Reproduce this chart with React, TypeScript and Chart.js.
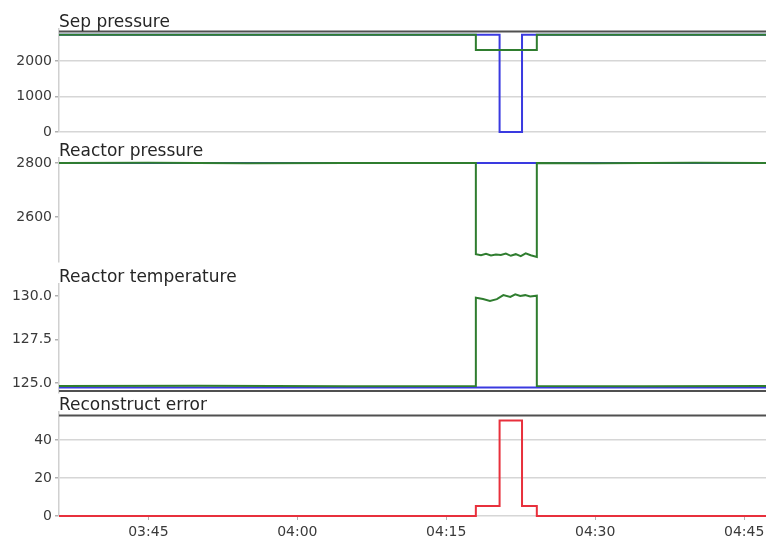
import React, { useEffect, useRef } from "react";
import { Chart, registerables } from "chart.js";

Chart.register(...registerables);

// ---------- shared time axis (minutes since 00:00) ----------
const X_MIN = 216.0;
const X_MAX = 287.2;
const xTickMinutes = [225, 240, 255, 270, 285];
const xTickLabels = ["03:45", "04:00", "04:15", "04:30", "04:45"];

// ---------- Sep pressure ----------
const sepTicks = [0, 1000, 2000];
const sepGreenT = [216, 257.98, 257.98, 264.12, 264.12, 287.2];
const sepGreenV = [2740, 2740, 2310, 2310, 2740, 2740];
const sepBlueT = [216, 260.37, 260.37, 262.63, 262.63, 287.2];
const sepBlueV = [2740, 2740, 0, 0, 2740, 2740];
const sepLimitT = [216, 287.2];
const sepLimitV = [2830, 2830];

// ---------- Reactor pressure ----------
const rpTicks = [2600, 2800];
const rpGreenT = [216, 225, 235, 245, 257.98, 257.98, 258.5, 259, 259.5, 260, 260.5, 261, 261.5, 262, 262.5, 263, 263.5, 264.12, 264.12, 270, 280, 287.2];
const rpGreenV = [2800, 2801, 2799, 2800, 2800, 2462, 2458, 2463, 2457, 2461, 2459, 2464, 2456, 2462, 2455, 2465, 2458, 2452, 2800, 2799, 2801, 2800];
const rpBlueT = [216, 287.2];
const rpBlueV = [2800, 2800];

// ---------- Reactor temperature ----------
const rtTicks = [125, 127.5, 130];
const rtGreenT = [216, 230, 245, 257.98, 257.98, 258.7, 259.4, 260.1, 260.75, 261.45, 261.95, 262.45, 262.95, 263.45, 264.12, 264.12, 275, 287.2];
const rtGreenV = [124.83, 124.84, 124.82, 124.83, 129.9, 129.83, 129.72, 129.82, 130.05, 129.95, 130.1, 130.0, 130.05, 129.97, 130.02, 124.83, 124.82, 124.83];
const rtBlueT = [216, 287.2];
const rtBlueV = [124.75, 124.75];
const rtLimitT = [216, 287.2];
const rtLimitV = [124.54, 124.54];

// ---------- Reconstruct error ----------
const reTicks = [0, 20, 40];
const reRedT = [216, 257.98, 257.98, 260.37, 260.37, 262.63, 262.63, 264.12, 264.12, 287.2];
const reRedV = [0, 0, 5.3, 5.3, 50.2, 50.2, 5.3, 5.3, 0, 0];
const reLimitT = [216, 287.2];
const reLimitV = [52.8, 52.8];

const GREEN = "#2f7d2f";
const BLUE = "#3a3ae0";
const RED = "#e8303c";
const DARK = "#505050";
const FONT = "DejaVu Sans";

const pts = (t: number[], v: number[]) => t.map((x, i) => ({ x, y: v[i] }));

const line = (label: string, t: number[], v: number[], color: string, width = 2) => ({
  label,
  data: pts(t, v),
  borderColor: color,
  backgroundColor: color,
  borderWidth: width,
  pointRadius: 0,
  tension: 0,
  fill: false,
  clip: false as any,
});

const panelTitle = {
  id: "panelTitle",
  afterDraw(chart: any, _args: any, opts: any) {
    const { ctx, chartArea } = chart;
    ctx.save();
    ctx.font = `17px "${FONT}"`;
    ctx.fillStyle = "#262626";
    ctx.textAlign = "left";
    ctx.textBaseline = "alphabetic";
    ctx.fillText(opts.text, chartArea.left, chartArea.top - 2.5);
    ctx.restore();
  },
};

type PanelCfg = {
  title: string;
  top: number;
  height: number;
  yMin: number;
  yMax: number;
  ticks: number[];
  decimals: number;
  grid: boolean;
  datasets: any[];
  showX: boolean;
};

const PAD_TOP = 24;
const PAD_BOTTOM = 12;
const X_AXIS_H = 22;

const panels: PanelCfg[] = [
  {
    title: "Sep pressure",
    top: 29 - PAD_TOP,
    height: 132 - 29 + PAD_TOP + PAD_BOTTOM,
    yMin: 0,
    yMax: 2900,
    ticks: sepTicks,
    decimals: 0,
    grid: true,
    showX: false,
    datasets: [
      line("Sep pressure (obs)", sepGreenT, sepGreenV, GREEN),
      line("Sep pressure (rec)", sepBlueT, sepBlueV, BLUE),
      line("Sep limit", sepLimitT, sepLimitV, DARK),
    ],
  },
  {
    title: "Reactor pressure",
    top: 158 - PAD_TOP,
    height: 262 - 158 + PAD_TOP + PAD_BOTTOM,
    yMin: 2433,
    yMax: 2818.5,
    ticks: rpTicks,
    decimals: 0,
    grid: false,
    showX: false,
    datasets: [
      line("Reactor pressure (obs)", rpGreenT, rpGreenV, GREEN),
      line("Reactor pressure (rec)", rpBlueT, rpBlueV, BLUE),
    ],
  },
  {
    title: "Reactor temperature",
    top: 284 - PAD_TOP,
    height: 393 - 284 + PAD_TOP + PAD_BOTTOM,
    yMin: 124.43,
    yMax: 130.69,
    ticks: rtTicks,
    decimals: 1,
    grid: false,
    showX: false,
    datasets: [
      line("Reactor temperature (obs)", rtGreenT, rtGreenV, GREEN),
      line("Reactor temperature (rec)", rtBlueT, rtBlueV, BLUE),
      line("Temp limit", rtLimitT, rtLimitV, DARK),
    ],
  },
  {
    title: "Reconstruct error",
    top: 412 - PAD_TOP,
    height: 516 - 412 + PAD_TOP + X_AXIS_H,
    yMin: 0,
    yMax: 54.7,
    ticks: reTicks,
    decimals: 0,
    grid: true,
    showX: true,
    datasets: [
      line("Reconstruct error", reRedT, reRedV, RED),
      line("Error limit", reLimitT, reLimitV, DARK),
    ],
  },
];

function makeChart(canvas: HTMLCanvasElement, p: PanelCfg) {
  return new Chart(canvas, {
    type: "line",
    data: { datasets: p.datasets },
    plugins: [panelTitle as any],
    options: {
      animation: false,
      responsive: false,
      devicePixelRatio: 1,
      events: [],
      layout: { padding: { top: PAD_TOP, bottom: p.showX ? 0 : PAD_BOTTOM, left: 0, right: 0 } },
      plugins: {
        legend: { display: false },
        tooltip: { enabled: false },
        title: { display: false },
        panelTitle: { text: p.title },
      } as any,
      scales: {
        x: {
          type: "linear",
          min: X_MIN,
          max: X_MAX,
          display: p.showX,
          afterBuildTicks: (s: any) => {
            s.ticks = xTickMinutes.map((v) => ({ value: v }));
          },
          afterFit: (s: any) => {
            s.height = p.showX ? X_AXIS_H : 0;
            s.paddingLeft = 0;
            s.paddingRight = 0;
          },
          ticks: {
            autoSkip: false,
            maxRotation: 0,
            padding: 4,
            color: "#3a3a3a",
            font: { family: FONT, size: 14 },
            callback: (v: any) => xTickLabels[xTickMinutes.indexOf(Number(v))] ?? "",
          },
          grid: { drawOnChartArea: false, tickLength: 4, tickColor: "#b0b0b0", lineWidth: 1 },
          border: { display: false },
        },
        y: {
          type: "linear",
          min: p.yMin,
          max: p.yMax,
          afterBuildTicks: (s: any) => {
            s.ticks = p.ticks.map((v) => ({ value: v }));
          },
          afterFit: (s: any) => {
            s.width = 59;
          },
          ticks: {
            padding: 3,
            color: "#3a3a3a",
            font: { family: FONT, size: 14 },
            callback: (v: any) => Number(v).toFixed(p.decimals),
          },
          grid: {
            color: p.grid ? "#d6d6d6" : "rgba(0,0,0,0)",
            lineWidth: 1.5,
            tickLength: 4,
            tickColor: "#b0b0b0",
          },
          border: { display: true, color: "#d0d0d0", width: 1.5 },
        },
      },
    } as any,
  });
}

export default function App() {
  const refs = useRef<(HTMLCanvasElement | null)[]>([]);

  useEffect(() => {
    const charts = panels.map((p, i) => makeChart(refs.current[i] as HTMLCanvasElement, p));
    return () => charts.forEach((c) => c.destroy());
  }, []);

  return (
    <div
      style={{
        position: "fixed",
        left: 0,
        top: 0,
        width: 766,
        height: 538,
        overflow: "hidden",
        background: "#ffffff",
      }}
    >
      {panels.map((p, i) => (
        <canvas
          key={p.title}
          ref={(el) => {
            refs.current[i] = el;
          }}
          width={766}
          height={p.height}
          style={{ position: "absolute", left: 0, top: p.top, width: 766, height: p.height }}
        />
      ))}
    </div>
  );
}
